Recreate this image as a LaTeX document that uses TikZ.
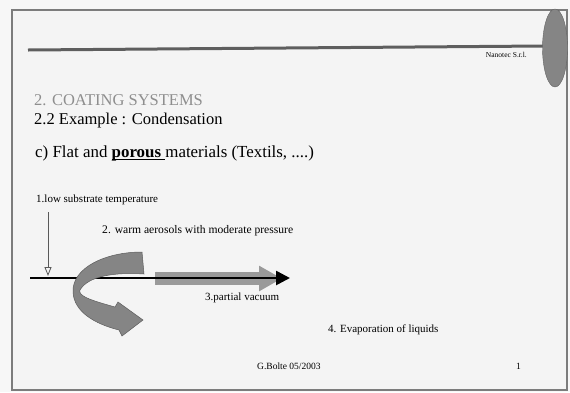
\documentclass[tikz,border=0pt]{standalone}
\usepackage{fontspec}
\setmainfont{Liberation Serif}
\usetikzlibrary{arrows.meta}
\definecolor{pagebg}{HTML}{F7F7F7}
\definecolor{slidebg}{HTML}{F4F4F4}
\definecolor{framegrey}{HTML}{7C7C7C}
\definecolor{rulegrey}{HTML}{5E5E5E}
\definecolor{titlegrey}{HTML}{8E8E8E}
\definecolor{flowgrey}{HTML}{858585}
\definecolor{vacgrey}{HTML}{9A9A9A}
\newcommand\thickul[1]{\setbox0\hbox{#1}\rlap{\rule[-2.6pt]{\wd0}{1.1pt}}\box0}
\begin{document}
\begin{tikzpicture}[x=1pt,y=-1pt,
  big/.style={anchor=base west,inner sep=0pt,font=\fontsize{16.5}{19}\selectfont},
  txt/.style={anchor=base west,inner sep=0pt,font=\fontsize{11}{13}\selectfont},
  foot/.style={anchor=base west,inner sep=0pt,font=\fontsize{9.5}{11}\selectfont}]
\useasboundingbox (0,0) rectangle (570,392);
\fill[pagebg] (0,0) rectangle (570,392);
\draw[framegrey,line width=1.4pt,fill=slidebg] (12,10) rectangle (567,390);
\draw[rulegrey,line width=3pt] (28,50) -- (543,46);
\draw[fill=flowgrey,draw=flowgrey!75!black] (555,48) ellipse [x radius=12.5,y radius=39];
\node[anchor=base east,inner sep=0pt,font=\fontsize{7.5}{9}\selectfont] (firm) at (527,57) {Nanotec S.r.l.};
\node[big,text=titlegrey] (chap) at (34,105) {2. COATING SYSTEMS};
\node[big] (sect) at (34,124) {2.2 Example : Condensation};
\node[big,font=\fontsize{16.9}{19}\selectfont] (case) at (35,157) {c) Flat and \thickul{\textbf{porous}\ }materials (Textils, ....)};
\node[txt] (cold) at (36,202) {1.low substrate temperature};
\node[txt,font=\fontsize{11.6}{13}\selectfont] (warm) at (102,233) {2. warm aerosols with moderate pressure};
\node[txt] (vac) at (205,300) {3.partial vacuum};
\node[txt] (evap) at (328,332) {4. Evaporation of liquids};
\node[foot] (auth) at (257,369) {G.Bolte 05/2003};
\node[foot] (page) at (516,369) {1};
\coordinate (coldT) at (48,212);
\coordinate (coldB) at (48,276);
\coordinate (subL) at (30,278);
\coordinate (subR) at (290,278);
\coordinate (vacL) at (155,278.5);
\coordinate (vacR) at (282,278.5);
\draw[vacgrey,line width=13pt,-{Triangle[length=23pt,width=24pt]}] (vacL) -- (vacR);
\draw[line width=2.6pt,-{Triangle[length=14pt,width=14pt]}] (subL) -- (subR);
\draw[gray!70!black,line width=0.8pt,-{Triangle[open,length=9pt,width=7pt]}] (coldT) -- (coldB);
\draw[fill=flowgrey,draw=flowgrey!70!black,line width=0.5pt]
  (142,252) -- (144,274) .. controls (115,272) and (88,276) .. (80,290)
  .. controls (78,296) and (90,300) .. (115,307) -- (118,302) -- (143,320)
  -- (122,336) -- (119,330) .. controls (95,324) and (74,312) .. (73,292)
  .. controls (72,268) and (105,252) .. (142,252) -- cycle;
\end{tikzpicture}
\end{document}
